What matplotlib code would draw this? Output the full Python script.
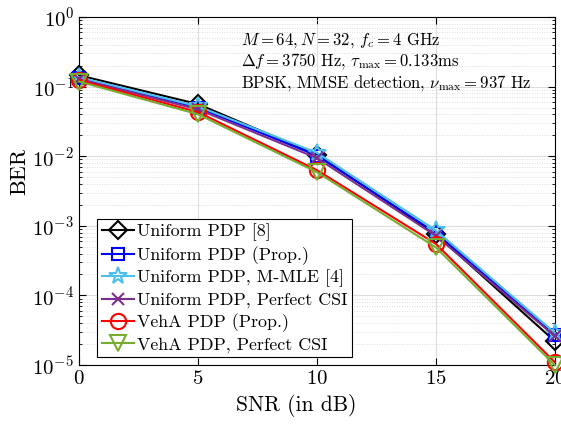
import matplotlib
matplotlib.use("Agg")
import matplotlib.pyplot as plt
from matplotlib.ticker import LogLocator, NullFormatter

plt.rcParams['font.family'] = ['cmr10', 'DejaVu Serif']
plt.rcParams['mathtext.fontset'] = 'cm'
plt.rcParams['axes.formatter.use_mathtext'] = True

snr = [0, 5, 10, 15, 20]
labels = ["Uniform PDP [8]", "Uniform PDP (Prop.)", "Uniform PDP, M-MLE [4]",
          "Uniform PDP, Perfect CSI", "VehA PDP (Prop.)", "VehA PDP, Perfect CSI"]
ber_uniform_ref = [0.145, 0.056, 0.0105, 7.6e-4, 2.2e-5]
ber_uniform_prop = [0.133, 0.050, 0.0102, 7.9e-4, 2.7e-5]
ber_uniform_mmle = [0.136, 0.052, 0.0112, 8.6e-4, 2.9e-5]
ber_uniform_csi = [0.128, 0.047, 0.0094, 7.2e-4, 2.6e-5]
ber_veha_prop = [0.124, 0.043, 0.0063, 5.5e-4, 1.1e-5]
ber_veha_csi = [0.118, 0.040, 0.0059, 4.9e-4, 1.0e-5]

series = [ber_uniform_ref, ber_uniform_prop, ber_uniform_mmle,
          ber_uniform_csi, ber_veha_prop, ber_veha_csi]
colors = ['black', '#0000ff', '#4dbeee', '#7e2f8e', '#ff0000', '#77ac30']
markers = ['D', 's', '*', 'x', 'o', 'v']
msizes = [9, 9, 13, 9, 11, 12]

fig = plt.figure(figsize=(5.61, 4.24), dpi=100)
ax = fig.add_axes([0.141, 0.139, 0.848, 0.821])

for y, c, m, ms, lab in zip(series, colors, markers, msizes, labels):
    ax.semilogy(snr, y, color=c, marker=m, markersize=ms, markerfacecolor='none',
                markeredgewidth=1.5, linewidth=1.5, label=lab, clip_on=False, zorder=3)

ax.set_xlim(0, 20)
ax.set_ylim(1e-5, 1)
ax.set_xticks([0, 5, 10, 15, 20])
ax.yaxis.set_major_locator(LogLocator(base=10, numticks=10))
ax.yaxis.set_minor_locator(LogLocator(base=10, subs=range(2, 10), numticks=20))
ax.yaxis.set_minor_formatter(NullFormatter())
ax.grid(True, which='major', color='#dddddd', linewidth=0.8, linestyle='-')
ax.grid(True, which='minor', axis='y', color='#d0d0d0', linewidth=0.6, linestyle=(0, (1, 2)))
ax.set_axisbelow(True)
ax.tick_params(which='both', direction='in', top=True, right=True, labelsize=15)
ax.tick_params(which='major', length=5)
ax.tick_params(which='minor', length=2.5)
for s in ax.spines.values():
    s.set_linewidth(0.8)

ax.set_xlabel('SNR (in dB)', fontsize=15.5)
ax.set_ylabel('BER', fontsize=16)
ax.xaxis.set_label_coords(0.456, -0.083)
ax.yaxis.set_label_coords(-0.105, 0.555)

ax.text(0.34, 0.96,
        "$M=64, N=32$, $f_c=4$ GHz\n$\\Delta f=3750$ Hz, $\\tau_{\\max}=0.133$ms\nBPSK, MMSE detection, $\\nu_{\\max}=937$ Hz",
        transform=ax.transAxes, fontsize=12, va='top', ha='left', linespacing=1.1)

leg = ax.legend(loc='lower left', bbox_to_anchor=(0.038, 0.023), fontsize=12.9,
                handlelength=1.8, handletextpad=0.2, borderpad=0.25, labelspacing=0.27,
                fancybox=False, edgecolor='black', framealpha=1, borderaxespad=0)
leg.get_frame().set_linewidth(0.8)

fig.savefig('out.png', dpi=100)
